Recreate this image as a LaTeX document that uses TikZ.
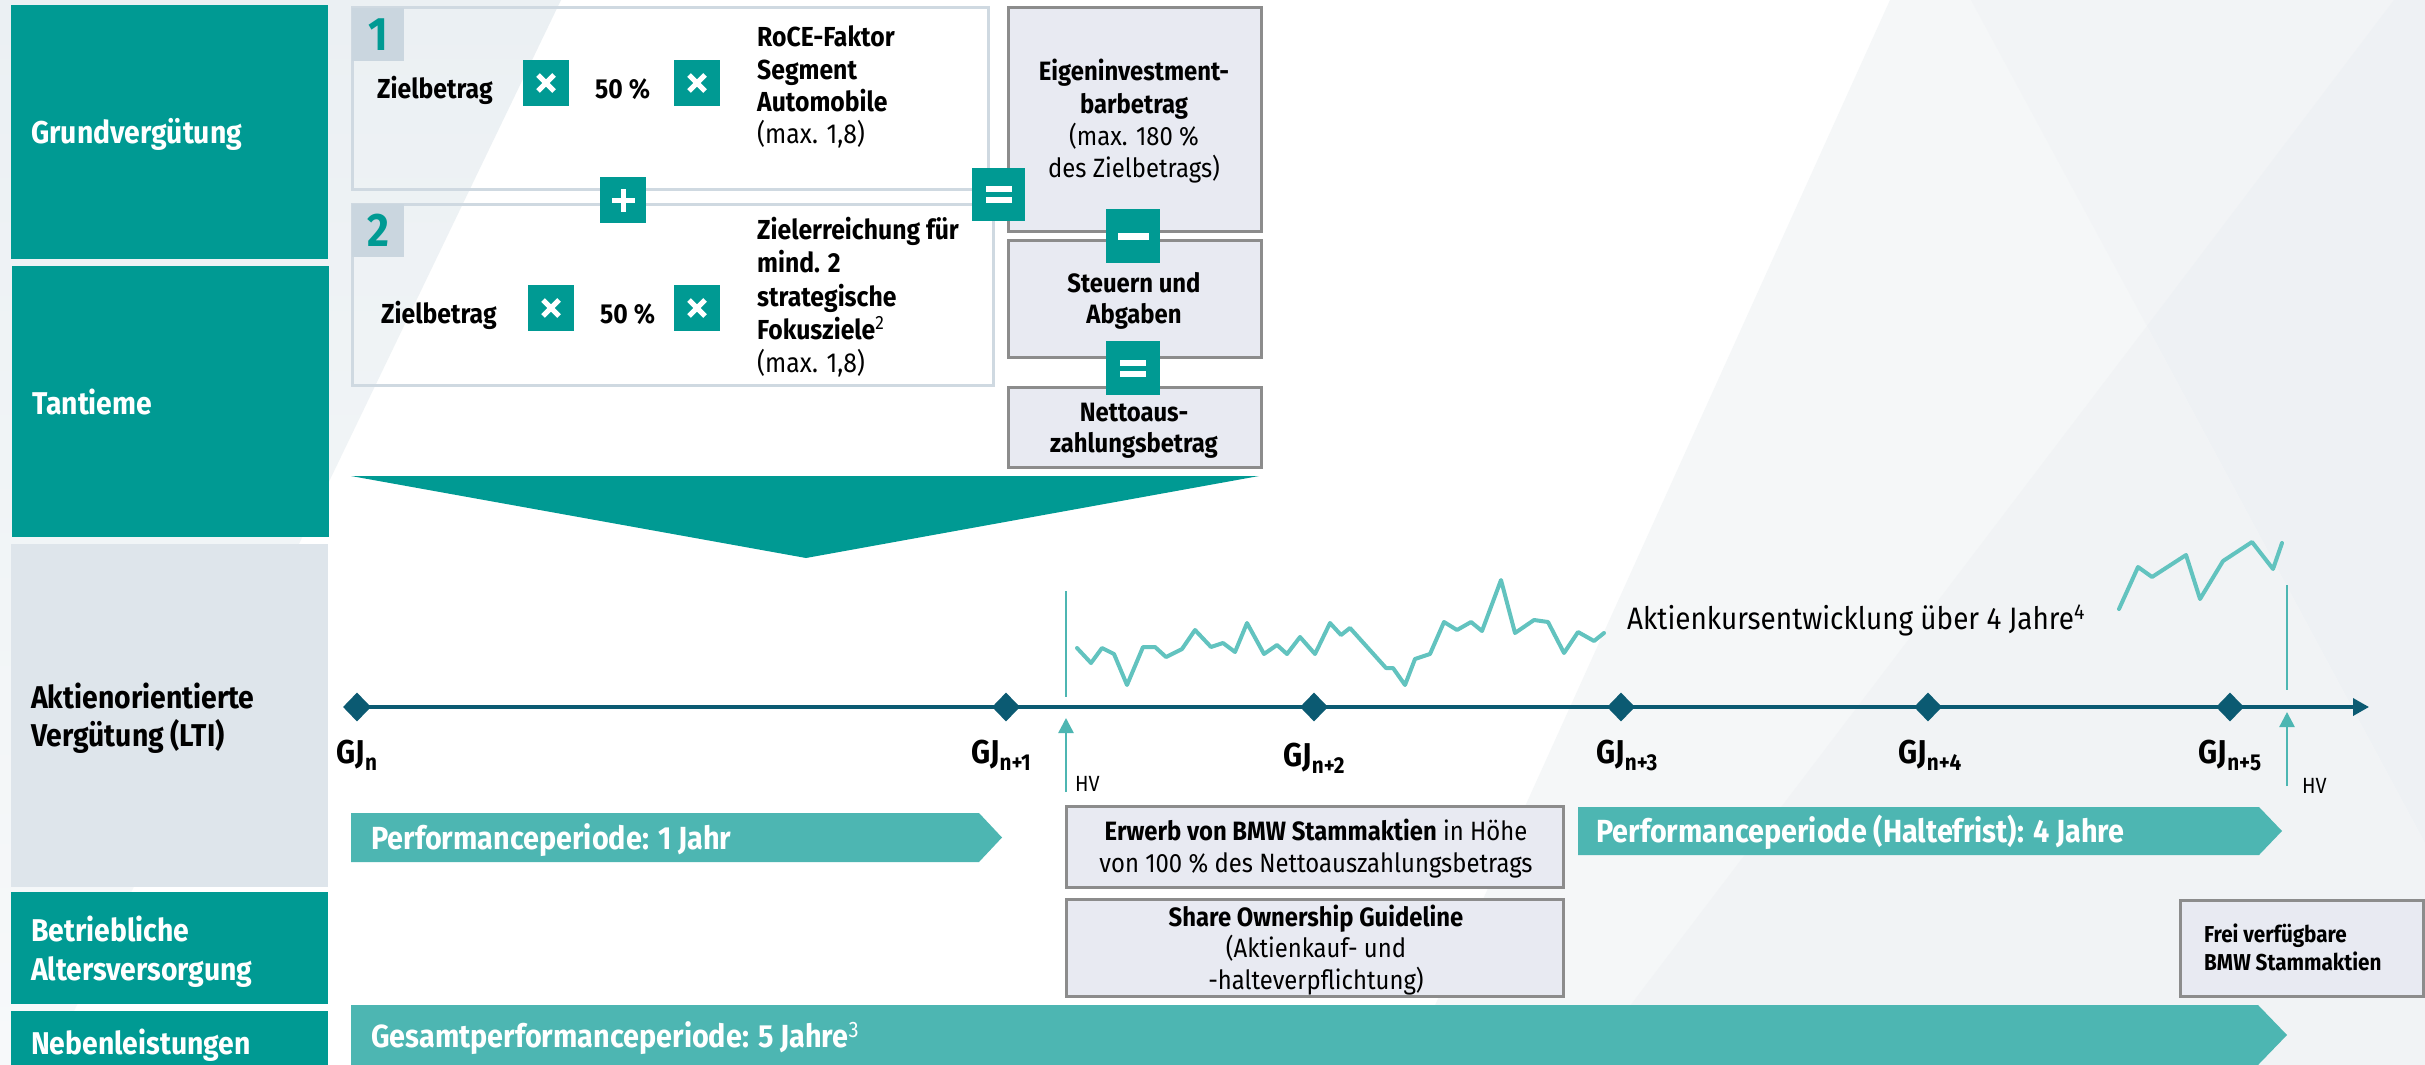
\documentclass[tikz,border=0pt]{standalone}
\usepackage{fontspec}
\setmainfont{Fira Sans}[FakeStretch=0.9]
\setsansfont{Fira Sans}[FakeStretch=0.9]
\usetikzlibrary{shapes.geometric,arrows.meta}
\definecolor{tealA}{HTML}{009A93}
\definecolor{tealB}{HTML}{4DB6B2}
\definecolor{chartc}{HTML}{62C3BF}
\definecolor{navyc}{HTML}{0B5A72}
\definecolor{grayfill}{HTML}{E8EAF2}
\definecolor{grayline}{HTML}{8C8C8C}
\definecolor{lgray}{HTML}{DEE5EB}
\definecolor{tabc}{HTML}{CAD6DF}
\definecolor{boxline}{HTML}{CFD9E1}
\definecolor{bgl}{HTML}{EBF0F3}
\definecolor{bgrA}{HTML}{F5F7F8}
\definecolor{bgrB}{HTML}{F2F4F6}
\definecolor{bgrC}{HTML}{EEF1F4}
\definecolor{bgrD}{HTML}{F1F3F5}
\newcommand\gjsub[1]{\raisebox{-7pt}{\fontsize{23}{23}\selectfont #1}}
\begin{document}
\begin{tikzpicture}[x=1pt,y=-1pt,
  lbox/.style={rectangle, inner sep=0pt, draw=none},
  ltxt/.style={anchor=base west, inner sep=0pt, font=\fontsize{31.5}{38}\selectfont\bfseries},
  btxt/.style={anchor=base west, inner sep=0pt, font=\fontsize{27.5}{33}\selectfont\bfseries},
  rtxt/.style={anchor=base west, inner sep=0pt, font=\fontsize{27.5}{33}\selectfont},
  gbox/.style={rectangle, inner sep=0pt, fill=grayfill, draw=grayline, line width=3pt},
  gtxt/.style={anchor=base, inner sep=0pt, font=\fontsize{26.5}{32}\selectfont},
  optile/.style={rectangle, inner sep=0pt, fill=tealA, minimum width=#1, minimum height=#1},
  opmark/.style={white, line width=5pt},
  tabbox/.style={rectangle, inner sep=0pt, fill=tabc, text=tealA, minimum width=52pt, minimum height=53pt, font=\fontsize{47}{47}\selectfont\bfseries},
  dia/.style={diamond, fill=navyc, inner sep=0pt, minimum width=28pt, minimum height=29pt},
  gj/.style={anchor=base, inner sep=0pt, font=\fontsize{33}{33}\selectfont\bfseries},
  hvline/.style={tealB, line width=2.5pt},
  hvt/.style={anchor=base west, inner sep=0pt, font=\fontsize{22}{22}\selectfont},
  chart/.style={chartc, line width=4pt, line join=round, line cap=round},
  ptxt/.style={anchor=base west, inner sep=0pt, text=white, font=\fontsize{32}{32}\selectfont\bfseries},
]
\useasboundingbox (0,0) rectangle (2425,1065);
% background
\fill[white] (0,0) rectangle (2425,1065);
\shade[top color=bgl, bottom color=bgl!40!white] (0,0) -- (561,0) -- (48,1065) -- (0,1065) -- cycle;
\fill[bgrA] (1890,0) -- (2425,0) -- (2425,1065) -- (1408,1065) -- cycle;
\fill[bgrB] (1971,0) -- (2394,0) -- (2147,326) -- cycle;
\fill[bgrC] (2394,0) -- (2425,0) -- (2425,843) -- (2147,326) -- cycle;
\fill[bgrD] (2147,326) -- (2425,843) -- (2425,1065) -- (1585,1065) -- cycle;

% left column
\node[lbox, fill=tealA, minimum width=317pt, minimum height=254pt] (gvbox) at (169.5,132) {};
\node[ltxt, text=white] (gvt) at (31,143) {Grundvergütung};
\node[lbox, fill=tealA, minimum width=317pt, minimum height=271pt] (tabox) at (170.5,401.5) {};
\node[ltxt, text=white] (tat) at (32,414) {Tantieme};
\node[lbox, fill=lgray, minimum width=317pt, minimum height=343pt] (akbox) at (169.5,715.5) {};
\node[ltxt] (ak1) at (31,708) {Aktienorientierte};
\node[ltxt] (ak2) at (31,746) {Vergütung (LTI)};
\node[lbox, fill=tealA, minimum width=317pt, minimum height=112pt] (bebox) at (169.5,948) {};
\node[ltxt, text=white] (be1) at (31,941) {Betriebliche};
\node[ltxt, text=white] (be2) at (31,980) {Altersversorgung};
\node[lbox, fill=tealA, minimum width=317pt, minimum height=60pt] (nbbox) at (169.5,1041) {};
\node[ltxt, text=white] (nbt) at (31,1054) {Nebenleistungen};

% top formula boxes
\node[rectangle, draw=boxline, line width=3pt, inner sep=0pt, minimum width=636pt, minimum height=181pt] (box1) at (670,98.5) {};
\node[tabbox] (tab1) at (378,34.5) {1};
\node[rectangle, draw=boxline, line width=3pt, inner sep=0pt, minimum width=641pt, minimum height=181pt] (box2) at (672.5,294.5) {};
\node[tabbox] (tab2) at (378,230.5) {2};

\node[btxt] (z1) at (377,99) {Zielbetrag};
\node[optile=46pt] (x11) at (546,83) {};
\node[btxt] (p1) at (595,99) {50 \%};
\node[optile=46pt] (x12) at (697,83) {};
\node[btxt] (r1a) at (757,46.7) {RoCE-Faktor};
\node[btxt] (r1b) at (757,79) {Segment};
\node[btxt] (r1c) at (757,111.5) {Automobile};
\node[rtxt] (r1d) at (757,143.5) {(max. 1,8)};

\node[btxt] (z2) at (381,323) {Zielbetrag};
\node[optile=46pt] (x21) at (551,308) {};
\node[btxt] (p2) at (600,323) {50 \%};
\node[optile=46pt] (x22) at (697,308) {};
\node[btxt] (r2a) at (757,239) {Zielerreichung für};
\node[btxt] (r2b) at (757,272.5) {mind. 2};
\node[btxt] (r2c) at (757,306) {strategische};
\node[btxt] (r2d) at (757,339) {Fokusziele\textsuperscript{\mdseries 2}};
\node[rtxt] (r2e) at (757,372) {(max. 1,8)};

\foreach \n in {x11,x12,x21,x22}{
  \draw[opmark] ([shift={(-8,-8)}]\n.center) -- ([shift={(8,8)}]\n.center)
                ([shift={(-8,8)}]\n.center) -- ([shift={(8,-8)}]\n.center);
}
\node[optile=46pt] (plus) at (623,200) {};
\fill[white] ([shift={(-11.5,-2.5)}]plus.center) rectangle ([shift={(11.5,2.5)}]plus.center);
\fill[white] ([shift={(-2.5,-11.5)}]plus.center) rectangle ([shift={(2.5,11.5)}]plus.center);

% gray result boxes
\node[gbox, minimum width=253pt, minimum height=223pt] (eig) at (1134.5,119.5) {};
\node[gtxt, font=\fontsize{26.5}{32}\selectfont\bfseries] (e1) at (1134,80.5) {Eigeninvestment-};
\node[gtxt, font=\fontsize{26.5}{32}\selectfont\bfseries] (e2) at (1134,113) {barbetrag};
\node[gtxt] (e3) at (1134,145) {(max. 180 \%};
\node[gtxt] (e4) at (1134,177) {des Zielbetrags)};
\node[gbox, minimum width=253pt, minimum height=117pt] (steu) at (1134.5,298.5) {};
\node[gtxt, font=\fontsize{26.5}{32}\selectfont\bfseries] (s1) at (1134,292) {Steuern und};
\node[gtxt, font=\fontsize{26.5}{32}\selectfont\bfseries] (s2) at (1134,323) {Abgaben};
\node[gbox, minimum width=253pt, minimum height=80pt] (net) at (1134.5,427) {};
\node[gtxt, font=\fontsize{26.5}{32}\selectfont\bfseries] (n1) at (1134,421) {Nettoaus-};
\node[gtxt, font=\fontsize{26.5}{32}\selectfont\bfseries] (n2) at (1134,452) {zahlungsbetrag};

\node[optile=53pt] (eq1) at (998.5,194.5) {};
\fill[white] ([shift={(-13,-8.5)}]eq1.center) rectangle ([shift={(13,-2.5)}]eq1.center);
\fill[white] ([shift={(-13,2.5)}]eq1.center) rectangle ([shift={(13,8.5)}]eq1.center);
\node[optile=54pt] (minus) at (1133,236) {};
\fill[white] ([shift={(-15.5,-3.5)}]minus.center) rectangle ([shift={(15.5,3.5)}]minus.center);
\node[optile=54pt] (eq2) at (1133,368) {};
\fill[white] ([shift={(-13,-8.5)}]eq2.center) rectangle ([shift={(13,-2.5)}]eq2.center);
\fill[white] ([shift={(-13,2.5)}]eq2.center) rectangle ([shift={(13,8.5)}]eq2.center);

% big funnel triangle
\fill[tealA] (351,476) -- (1259,476) -- (806,558) -- cycle;

% timeline
\node[dia] (d0) at (357,707) {};
\node[dia] (d1) at (1006,707) {};
\node[dia] (d2) at (1314,707) {};
\node[dia] (d3) at (1621,707) {};
\node[dia] (d4) at (1928,707) {};
\node[dia] (d5) at (2230,707) {};
\coordinate (tend) at (2369,707);
\draw[navyc, line width=3.5pt, -{Triangle[length=16pt,width=17pt]}] (d0.center) -- (tend);
\node[gj] (g0) at (357,763) {GJ\gjsub{n}};
\node[gj] (g1) at (1001,763) {GJ\gjsub{n+1}};
\node[gj] (g2) at (1314,766) {GJ\gjsub{n+2}};
\node[gj] (g3) at (1627,763) {GJ\gjsub{n+3}};
\node[gj] (g4) at (1930,763) {GJ\gjsub{n+4}};
\node[gj] (g5) at (2230,763) {GJ\gjsub{n+5}};

% HV markers
\coordinate (hv1t) at (1066,591);
\coordinate (hv1m) at (1066,697);
\draw[hvline] (hv1t) -- (hv1m);
\coordinate (hv1a) at (1066,792);
\coordinate (hv1b) at (1066,718);
\draw[hvline, -{Triangle[length=15pt,width=15pt]}] (hv1a) -- (hv1b);
\node[hvt] (hv1) at (1075,791) {HV};
\coordinate (hv2t) at (2287,585);
\coordinate (hv2m) at (2287,690);
\draw[hvline] (hv2t) -- (hv2m);
\coordinate (hv2a) at (2287,786);
\coordinate (hv2b) at (2287,712);
\draw[hvline, -{Triangle[length=15pt,width=15pt]}] (hv2a) -- (hv2b);
\node[hvt] (hv2) at (2302,793) {HV};

% share price chart
\draw[chart] plot coordinates {(1077,648) (1091,663) (1102,648) (1114,654) (1127,685) (1143,647) (1155,647) (1166,657) (1182,649) (1195,630) (1211,647) (1223,643) (1235,652) (1247,623) (1264,654) (1277,645) (1287,654) (1300,637) (1315,654) (1330,623) (1341,635) (1350,628) (1368,648) (1386,668) (1393,668) (1405,685) (1415,659) (1430,654) (1444,622) (1457,630) (1471,622) (1482,631) (1501,580) (1515,633) (1534,620) (1548,622) (1564,653) (1578,632) (1594,641) (1604,633)};
\draw[chart] plot coordinates {(2119,609) (2138,567) (2152,577) (2186,555) (2200,599) (2223,561) (2252,542) (2273,569) (2282,543)};
\node[anchor=base west, inner sep=0pt, font=\fontsize{31}{38}\selectfont] (akt) at (1627,629) {Aktienkursentwicklung über 4 Jahre\textsuperscript{4}};

% period arrows
\fill[tealB] (351,813) -- (979,813) -- (1002,837.5) -- (979,862) -- (351,862) -- cycle;
\node[ptxt] (pp1) at (371,849) {Performanceperiode: 1 Jahr};
\fill[tealB] (1578,807) -- (2259,807) -- (2282,831) -- (2259,855) -- (1578,855) -- cycle;
\node[ptxt] (pp2) at (1596,842) {Performanceperiode (Haltefrist): 4 Jahre};
\fill[tealB] (351,1005) -- (2258,1005) -- (2287,1035) -- (2258,1065) -- (351,1065) -- cycle;
\node[ptxt] (pp3) at (371,1047) {Gesamtperformanceperiode: 5 Jahre\textsuperscript{\mdseries 3}};

% lower gray boxes
\node[gbox, minimum width=497pt, minimum height=81pt] (erw) at (1314.5,846.5) {};
\node[gtxt] (er1) at (1316,840) {\textbf{Erwerb von BMW Stammaktien} in Höhe};
\node[gtxt] (er2) at (1316,872) {von 100 \% des Nettoauszahlungsbetrags};
\node[gbox, minimum width=497pt, minimum height=97pt] (sog) at (1314.5,947.5) {};
\node[gtxt, font=\fontsize{26.5}{32}\selectfont\bfseries] (so1) at (1316,926) {Share Ownership Guideline};
\node[gtxt] (so2) at (1316,957) {(Aktienkauf- und};
\node[gtxt] (so3) at (1316,989) {-halteverpflichtung)};
\node[gbox, minimum width=243pt, minimum height=96pt] (frei) at (2301.5,948) {};
\node[anchor=base west, inner sep=0pt, font=\fontsize{23}{28}\selectfont\bfseries] (fr1) at (2204,942) {Frei verfügbare};
\node[anchor=base west, inner sep=0pt, font=\fontsize{23}{28}\selectfont\bfseries] (fr2) at (2204,970) {BMW Stammaktien};
\end{tikzpicture}
\end{document}
